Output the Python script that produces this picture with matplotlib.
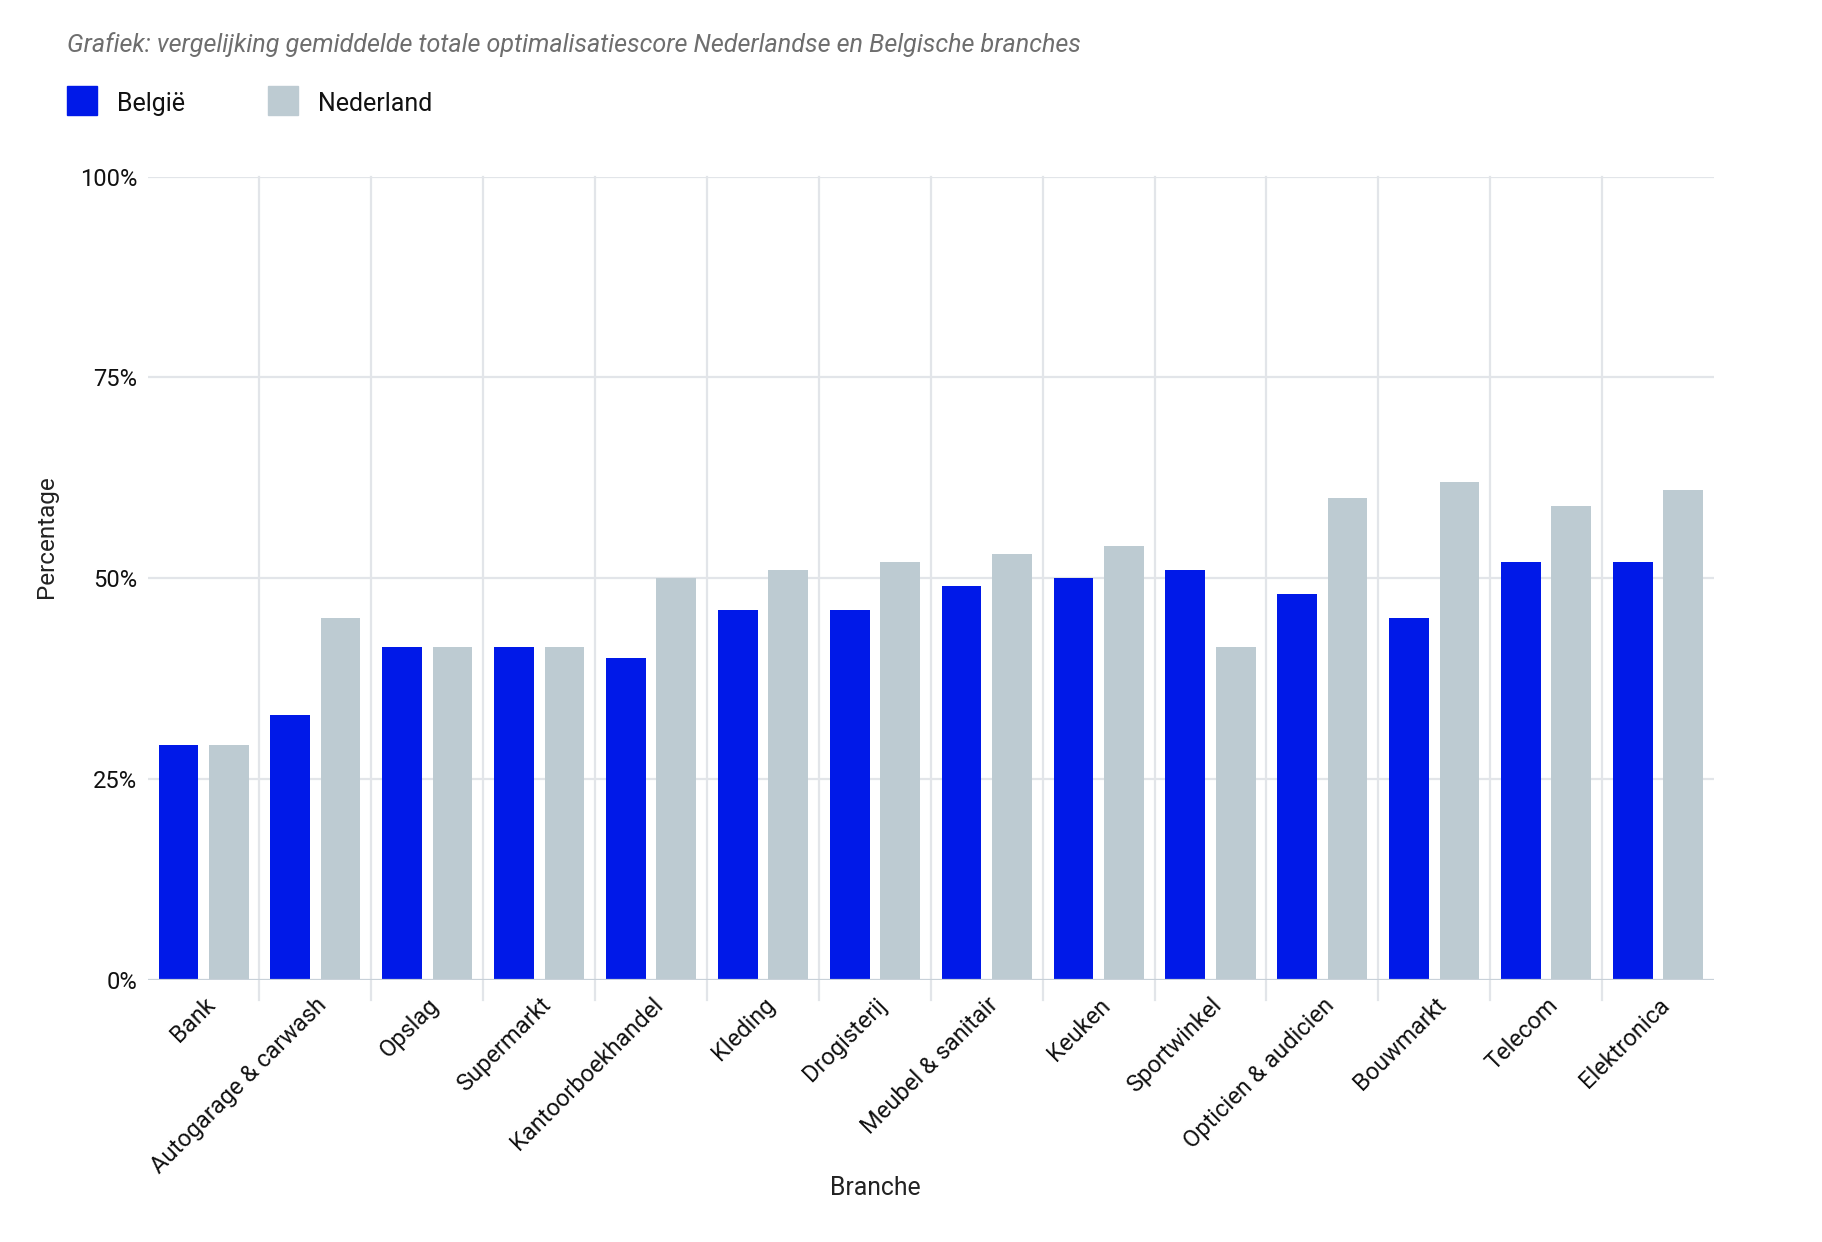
import matplotlib
matplotlib.use("Agg")
import matplotlib.pyplot as plt
import matplotlib.patches as mpatches
import matplotlib.transforms as mtransforms
import numpy as np

categories = ["Bank", "Autogarage & carwash", "Opslag", "Supermarkt", "Kantoorboekhandel",
              "Kleding", "Drogisterij", "Meubel & sanitair", "Keuken", "Sportwinkel",
              "Opticien & audicien", "Bouwmarkt", "Telecom", "Elektronica"]
belgie = [29.2, 33, 41.4, 41.4, 40, 46, 46, 49, 50, 51, 48, 45, 52, 52]
nederland = [29.2, 45, 41.4, 41.4, 50, 51, 52, 53, 54, 41.4, 60, 62, 59, 61]
y_ticks = [0, 25, 50, 75, 100]
y_ticklabels = ["0%", "25%", "50%", "75%", "100%"]

plt.rcParams['font.family'] = ['Roboto', 'DejaVu Sans']

BLUE = "#0019E8"
GREY = "#BDCBD2"
GRID = "#E2E5E9"

W, H = 1822, 1242
fig = plt.figure(figsize=(W / 100, H / 100), dpi=100)
left, right, top, bottom = 147.6, 1714, 176.6, 979.6
ax = fig.add_axes([left / W, 1 - bottom / H, (right - left) / W, (bottom - top) / H])

x = np.arange(len(categories))
bw = 0.355
off = 0.225
ax.bar(x - off, belgie, width=bw, color=BLUE, zorder=3)
ax.bar(x + off, nederland, width=bw, color=GREY, zorder=3)

ax.set_xlim(-0.5, len(categories) - 0.5)
ax.set_ylim(0, 100)

for yv in y_ticks:
    ax.axhline(yv, color=("#C8D1D9" if yv == 0 else GRID), lw=1.6, zorder=1 if yv else 4)
for i in range(len(categories) - 1):
    ax.axvline(i + 0.5, ymin=-0.025, ymax=1, color=GRID, lw=1.6, zorder=1, clip_on=False)

for s in ax.spines.values():
    s.set_visible(False)

ax.set_yticks(y_ticks)
ax.set_yticklabels(y_ticklabels, fontsize=17, color="#111111")
ax.tick_params(axis="y", length=0, pad=7.5)
ax.set_xticks(x)
ax.set_xticklabels(categories, rotation=45, ha="right", va="center",
                   rotation_mode="anchor", fontsize=17, color="#111111")
ax.tick_params(axis="x", length=0, pad=0)
dx, dy = 8 / 100, -22 / 100
offset = mtransforms.ScaledTranslation(dx, dy, fig.dpi_scale_trans)
for lbl in ax.get_xticklabels():
    lbl.set_transform(lbl.get_transform() + offset)

fig.text(46 / W, 1 - 537 / H, "Percentage", rotation=90, ha="center", va="center",
         fontsize=17.5, color="#222222")
fig.text(875 / W, 1 - 1188 / H, "Branche", ha="center", va="center",
         fontsize=17.8, color="#222222")

fig.text(67 / W, 1 - 45 / H, "Grafiek: vergelijking gemiddelde totale optimalisatiescore Nederlandse en Belgische branches",
         ha="left", va="center", fontsize=18.1, style="italic", color="#6E6E6E")

fig.patches.append(mpatches.Rectangle((67 / W, 1 - 115 / H), 30 / W, 29 / H,
                                      transform=fig.transFigure, color=BLUE))
fig.text(117 / W, 1 - 104 / H, "België", ha="left", va="center", fontsize=18, color="#111111")
fig.patches.append(mpatches.Rectangle((268 / W, 1 - 115 / H), 30 / W, 29 / H,
                                      transform=fig.transFigure, color=GREY))
fig.text(318 / W, 1 - 104 / H, "Nederland", ha="left", va="center", fontsize=18, color="#111111")

fig.savefig("out.png", dpi=100, facecolor="white")
